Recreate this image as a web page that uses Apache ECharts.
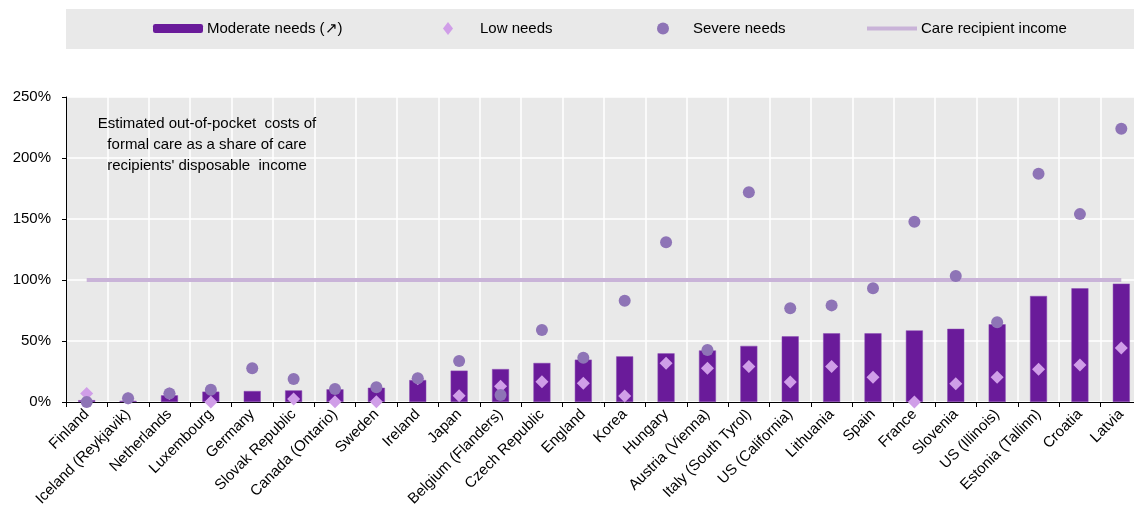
<!DOCTYPE html>
<html>
<head>
<meta charset="utf-8">
<script src="https://cdn.jsdelivr.net/npm/echarts@6/dist/echarts.min.js"></script>
<style>
html,body{margin:0;padding:0;background:#fff;}
#chart{width:1134px;height:505px;}
</style>
</head>
<body>
<div id="chart"></div>
<script>
const categories = ["Finland","Iceland (Reykjavik)","Netherlands","Luxembourg","Germany","Slovak Republic","Canada (Ontario)","Sweden","Ireland","Japan","Belgium (Flanders)","Czech Republic","England","Korea","Hungary","Austria (Vienna)","Italy (South Tyrol)","US (California)","Lithuania","Spain","France","Slovenia","US (Illinois)","Estonia (Tallinn)","Croatia","Latvia"];
const moderateNeeds = [1.5, 1, 5.5, 8.5, 9, 9.5, 10.4, 11.7, 18, 25.7, 27, 32, 34.7, 37.4, 39.9, 42.3, 46, 53.8, 56.3, 56.3, 58.7, 60, 63.7, 86.9, 93.2, 97];
const lowNeeds = [7, 3, 7, 0, null, 2.5, 0.3, 0.3, 19, 5.2, 13, 16.7, 15.3, 4.9, 31.7, 27.6, 29, 16.4, 29, 20.2, 0, 15, 20.2, 26.8, 30.3, 44.3];
const severeNeeds = [0, 3, 7, 10, 27.6, 18.8, 10.7, 12, 19.4, 33.6, 5.7, 59, 36.3, 83, 131, 42.6, 172, 76.8, 79.2, 93.2, 147.8, 103.3, 65.3, 187, 154, 224];
const careRecipientIncome = [100,100,100,100,100,100,100,100,100,100,100,100,100,100,100,100,100,100,100,100,100,100,100,100,100,100];
const yTicks = {min: 0, max: 250, interval: 50};
const noteLines = ["Estimated out-of-pocket  costs of", "formal care as a share of care", "recipients' disposable  income"];

const FONT = '"Liberation Sans", Arial, sans-serif';
const C_BAR = '#6a1b9a', C_LOW = '#d09ee8', C_SEV = '#8e74b6', C_LINE = '#c9b3d8';

const chart = echarts.init(document.getElementById('chart'));
function leg(name, left, opts) {
  return Object.assign({
    data: [name], left: left, top: 21, padding: 0, itemWidth: 50, itemHeight: 9, itemGap: 0,
    selectedMode: false,
    itemStyle: {borderWidth: 0},
    textStyle: {fontFamily: FONT, fontSize: 15, color: '#000', padding: [0,0,0,-1]}
  }, opts || {});
}
chart.setOption({
  animation: false,
  backgroundColor: '#fff',
  graphic: [
    {type: 'rect', left: 66, top: 9, shape: {width: 1068, height: 40}, style: {fill: '#e9e9e9'}, z: -10},
    {type: 'text', z: 10,
     style: {text: noteLines.join('\n'), x: 207, y: 113, textAlign: 'center', font: '15px ' + FONT, lineHeight: 21, fill: '#000'}}
  ],
  legend: [
    leg('Moderate needs (↗)', 153),
    leg('Low needs', 443, {itemWidth: 10, itemHeight: 13, textStyle: {fontFamily: FONT, fontSize: 15, color: '#000', padding: [0,0,0,22]}}),
    leg('Severe needs', 657, {itemWidth: 12, itemHeight: 12, textStyle: {fontFamily: FONT, fontSize: 15, color: '#000', padding: [0,0,0,19]}}),
    leg('Care recipient income', 867, {itemHeight: 4, icon: 'rect'})
  ],
  grid: {left: 66, width: 1076, top: 97, bottom: 103, show: true, backgroundColor: '#e9e9e9', borderWidth: 0,
         containLabel: false, outerBoundsMode: 'none'},
  xAxis: {
    type: 'category', data: categories,
    axisLine: {show: true, lineStyle: {color: '#000', width: 1}},
    axisTick: {show: true, length: 5, interval: 0, lineStyle: {color: '#000'}},
    splitLine: {show: true, interval: 0, lineStyle: {color: '#fff', width: 1.5}},
    axisLabel: {interval: 0, rotate: 45, margin: 10, fontFamily: FONT, fontSize: 15, color: '#000'}
  },
  yAxis: {
    type: 'value', min: yTicks.min, max: yTicks.max, interval: yTicks.interval,
    axisLine: {show: true, lineStyle: {color: '#000', width: 1}},
    axisTick: {show: true, length: 4, lineStyle: {color: '#000'}},
    splitLine: {show: true, lineStyle: {color: '#fff', width: 1.5}},
    axisLabel: {formatter: '{value}%', margin: 15, fontFamily: FONT, fontSize: 15, color: '#000'}
  },
  series: [
    {name: 'Moderate needs (↗)', type: 'bar', data: moderateNeeds, barWidth: 17, z: 2,
     itemStyle: {color: C_BAR, borderColor: '#8a4db5', borderWidth: 0.5}},
    {name: 'Care recipient income', type: 'line', data: careRecipientIncome, z: 3, symbol: 'none',
     lineStyle: {color: C_LINE, width: 4}, itemStyle: {color: C_LINE}},
    {name: 'Low needs', type: 'scatter', data: lowNeeds, symbol: 'diamond', symbolSize: 13, z: 4,
     itemStyle: {color: C_LOW, opacity: 1}},
    {name: 'Severe needs', type: 'scatter', data: severeNeeds, symbol: 'circle', symbolSize: 12, z: 5,
     itemStyle: {color: C_SEV, opacity: 1}}
  ]
});
</script>
</body>
</html>
